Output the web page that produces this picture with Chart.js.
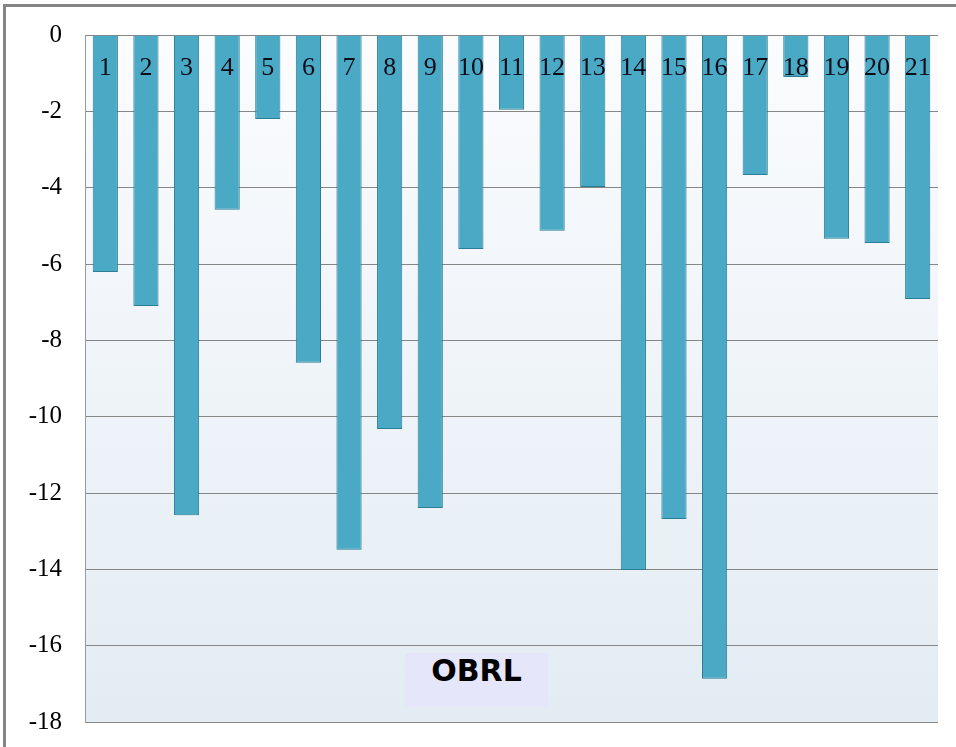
<!DOCTYPE html>
<html>
<head>
<meta charset="utf-8">
<title>OBRL</title>
<script src="https://cdn.jsdelivr.net/npm/chart.js@4/dist/chart.umd.min.js"></script>
<style>

    body{
        margin:0;
        background:#ffffff;
    }

    #wrap{
        position:relative;
        width:956px;
        height:747px;
        overflow:hidden;
    }

    #frame{
        position:absolute;
        left:3px;
        top:4px;
        right:0;
        bottom:0;
        border-left:3px solid #858585;
        border-top:3px solid #858585;
    }

    #obrlChart{
        position:absolute;
        left:0;
        top:0;
    }

    #tag{
        position:absolute;
        left:405px;
        top:653px;
        width:143px;
        height:54px;
        line-height:56px;
        background:#e6e6fa;
        text-align:center;
        font:bold 30px "DejaVu Sans", sans-serif;
        color:#000000;
    }

</style>
</head>
<body>

<div id="wrap">
    <div id="frame"></div>
    <canvas id="obrlChart" width="956" height="747"></canvas>
    <div id="tag">OBRL</div>
</div>

<script>

/* ==========================================
   DATA
========================================== */

const categories=[
    "1","2","3","4","5","6","7","8","9","10","11",
    "12","13","14","15","16","17","18","19","20","21"
];

const obrlValues=[
    -6.21,-7.10,-12.58,-4.58,-2.20,-8.59,-13.49,-10.32,-12.39,-5.61,-1.96,
    -5.13,-3.98,-14.02,-12.68,-16.87,-3.67,-1.10,-5.34,-5.45,-6.92
];

const yTicks=[0,-2,-4,-6,-8,-10,-12,-14,-16,-18];


/* ==========================================
   PLOT BACKGROUND
========================================== */

const plotBackground={

    id:"plotBackground",

    beforeDraw(chart){

        const {ctx,chartArea}=chart;

        const grad=ctx.createLinearGradient(0,chartArea.top,0,chartArea.bottom);

        grad.addColorStop(0,"#fbfcfe");

        grad.addColorStop(1,"#e3ecf3");

        ctx.save();

        ctx.fillStyle=grad;

        ctx.fillRect(chartArea.left,chartArea.top,chartArea.width,chartArea.height);

        ctx.restore();

    }

};


/* ==========================================
   CATEGORY LABELS INSIDE THE PLOT
========================================== */

const barNumbers={

    id:"barNumbers",

    afterDatasetsDraw(chart){

        const {ctx,scales}=chart;

        const y=scales.y.getPixelForValue(-0.88);

        ctx.save();

        ctx.font="26px Liberation Serif";

        ctx.fillStyle="#0d0d1a";

        ctx.textAlign="center";

        ctx.textBaseline="middle";

        categories.forEach((label,i)=>{

            ctx.fillText(label,scales.x.getPixelForValue(i),y);

        });

        ctx.restore();

    }

};


/* ==========================================
   CHART
========================================== */

const ctx=document.getElementById("obrlChart").getContext("2d");

new Chart(ctx,{

    type:"bar",

    data:{

        labels:categories,

        datasets:[{

            label:"OBRL",

            data:obrlValues,

            backgroundColor:"#4aa9c5",

            borderColor:"#2a7d94",

            borderWidth:1,

            barPercentage:0.62,

            categoryPercentage:1

        }]

    },

    options:{

        responsive:false,

        animation:false,

        layout:{
            padding:{top:35,right:18,bottom:25,left:0}
        },

        plugins:{
            legend:{display:false},
            tooltip:{enabled:false}
        },

        scales:{

            x:{
                display:false
            },

            y:{

                min:-18,

                max:0,

                afterBuildTicks(scale){
                    scale.ticks=yTicks.map(v=>({value:v}));
                },

                afterFit(scale){
                    scale.width=85;
                },

                grid:{
                    color:"#868686",
                    lineWidth:1,
                    drawTicks:true,
                    tickLength:23,
                    tickColor:"rgba(0,0,0,0)"
                },

                border:{
                    display:true,
                    color:"#9a9a9a"
                },

                ticks:{
                    padding:0,
                    color:"#000000",
                    font:{
                        family:"Liberation Serif",
                        size:25
                    }
                }

            }

        }

    },

    plugins:[plotBackground,barNumbers]

});

</script>
</body>
</html>
